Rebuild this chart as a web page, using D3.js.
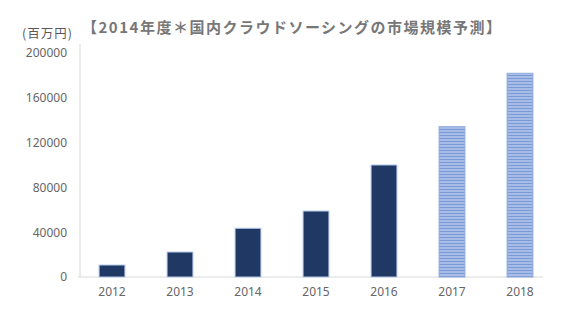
<!DOCTYPE html>
<html>
<head>
<meta charset="utf-8">
<script src="https://cdn.jsdelivr.net/npm/d3@7"></script>
<style>
  body { margin: 0; background: #fff; }
  text { font-family: "Noto Sans CJK JP", "Noto Sans", sans-serif; }
</style>
</head>
<body>
<div id="chart"></div>
<script>
// 年度と市場規模（百万円）
const years = ["2012", "2013", "2014", "2015", "2016", "2017", "2018"];
const values = [10700, 22300, 43500, 58900, 100000, 134200, 181900];
// 予測値（ハッチ）かどうか
const forecast = [false, false, false, false, false, true, true];
const yTicks = [0, 40000, 80000, 120000, 160000, 200000];
const title = "【2014年度＊国内クラウドソーシングの市場規模予測】";
const unit = "(百万円)";

const W = 575, H = 310;
const svg = d3.select("#chart").append("svg").attr("width", W).attr("height", H);

// パターン（予測値の横縞）
const defs = svg.append("defs");
const pat = defs.append("pattern").attr("id", "stripe")
  .attr("patternUnits", "userSpaceOnUse").attr("width", 4).attr("height", 3);
pat.append("rect").attr("width", 4).attr("height", 3).attr("fill", "#a7bce6");
pat.append("rect").attr("width", 4).attr("height", 1).attr("fill", "#7b9bd6");

const x = d3.scaleBand().domain(years).range([78, 554]).paddingInner(0.62).paddingOuter(0.31);
const y = d3.scaleLinear().domain([0, 200000]).range([277, 53]);

// 軸線
svg.append("line").attr("x1", 80).attr("x2", 80).attr("y1", 44).attr("y2", y(0))
  .attr("stroke", "#d9d9d9");
svg.append("line").attr("x1", 78).attr("x2", 543).attr("y1", y(0)).attr("y2", y(0))
  .attr("stroke", "#d9d9d9");

// y ラベル
const yAxis = d3.axisLeft(y).tickValues(yTicks).tickSize(0).tickPadding(0).tickFormat(d3.format("d"));
const gy = svg.append("g").attr("transform", "translate(67,0)").call(yAxis);
gy.select(".domain").remove();
gy.selectAll("text").attr("fill", "#666").style("font-size", "12px")
  .style("font-family", "'Noto Sans', sans-serif");

// x ラベル
const xAxis = d3.axisBottom(x).tickSize(0).tickPadding(0);
const gx = svg.append("g").attr("transform", "translate(0,287)").call(xAxis);
gx.select(".domain").remove();
gx.selectAll("text").attr("fill", "#666").style("font-size", "12px")
  .style("font-family", "'Noto Sans', sans-serif");

// 棒
svg.append("g").selectAll("rect").data(years).join("rect")
  .attr("x", d => x(d))
  .attr("y", (d, i) => y(values[i]))
  .attr("width", x.bandwidth())
  .attr("height", (d, i) => y(0) - y(values[i]))
  .attr("fill", (d, i) => forecast[i] ? "url(#stripe)" : "#1f3864")
  .attr("stroke", (d, i) => forecast[i] ? "#8faadc" : "#b4c7e7")
  .attr("stroke-width", 1);

// タイトル
svg.append("text").attr("x", 82).attr("y", 33).text(title)
  .attr("fill", "#777").style("font-size", "15px").style("font-weight", "bold")
  .style("letter-spacing", "1.5px");

svg.append("text").attr("x", 22).attr("y", 38).text(unit)
  .attr("fill", "#595959").style("font-size", "12.5px").style("letter-spacing", "1px");
</script>
</body>
</html>
